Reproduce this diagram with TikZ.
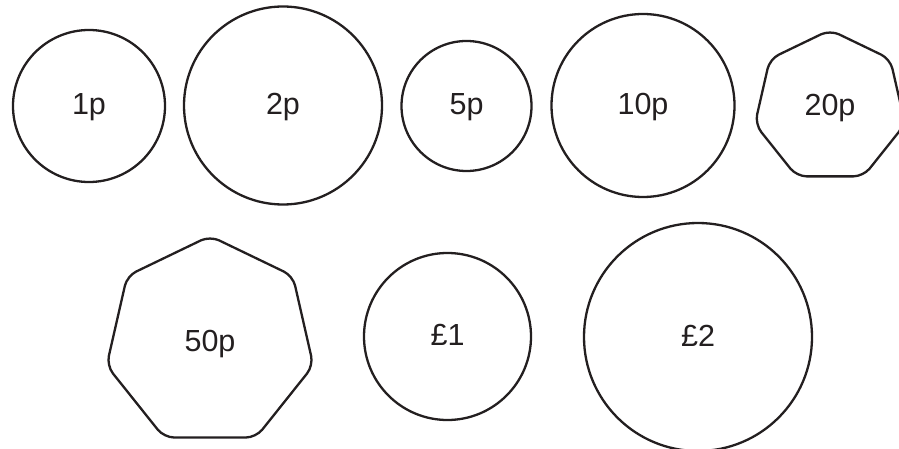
\documentclass[tikz,border=0pt]{standalone}
\usepackage{fontspec}
\setmainfont{Liberation Sans}
\usetikzlibrary{shapes.geometric}
\definecolor{ink}{HTML}{231F20}
\begin{document}
\begin{tikzpicture}[x=1pt,y=-1pt,
  coinfont/.style={font=\fontsize{30.5}{36}\selectfont,text height=22pt,text depth=4pt},
  coin/.style={circle,draw=ink,line width=2.3pt,text=ink,inner sep=0pt,minimum size=#1,coinfont},
  hepta/.style={regular polygon,regular polygon sides=7,draw=ink,line width=2.3pt,text=ink,inner sep=0pt,minimum size=#1,rounded corners=10pt,coinfont}]
\useasboundingbox (0,0) rectangle (899,449);
\node[coin=152pt] (c1) at (89,106) {1p};
\node[coin=198pt] (c2) at (283,105.5) {2p};
\node[coin=130pt] (c5) at (466.5,106) {5p};
\node[coin=183pt] (c10) at (643,105.5) {10p};
\node[hepta=154pt] (c20) at (830,107) {20p};
\node[hepta=212pt] (c50) at (210,342) {50p};
\node[coin=167pt] (c100) at (447.5,336.5) {£1};
\node[coin=228pt] (c200) at (698,337) {£2};
\end{tikzpicture}
\end{document}
